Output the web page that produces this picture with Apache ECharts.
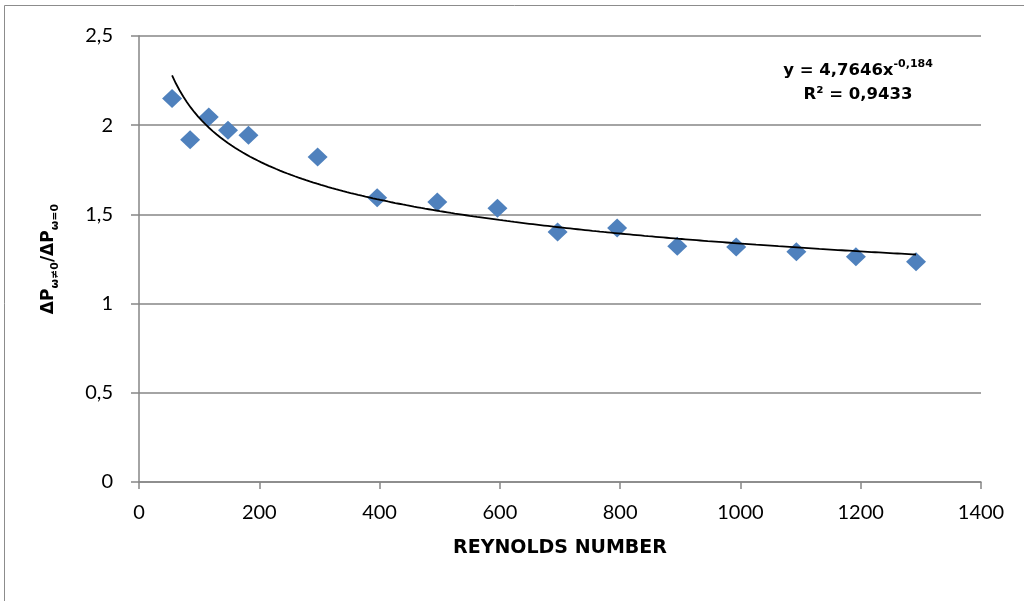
<!DOCTYPE html>
<html>
<head>
<meta charset="utf-8">
<script src="https://cdn.jsdelivr.net/npm/echarts@6/dist/echarts.min.js"></script>
<style>
  html, body { margin: 0; padding: 0; background: #fff; }
  #chart { width: 1024px; height: 601px; }
</style>
</head>
<body>
<div id="chart"></div>
<script>
// ---- data ----
const reynolds = [55, 85, 116, 148, 182, 297, 396, 496, 596, 696, 795, 895, 993, 1093, 1192, 1292];
const pressureRatio = [2.149, 1.919, 2.046, 1.971, 1.943, 1.822, 1.594, 1.570, 1.534, 1.401, 1.424, 1.321, 1.317, 1.291, 1.263, 1.235];

// power trendline coefficients printed on the chart: y = a * x^b
const trendA = 4.7646;
const trendB = -0.184;
const trendLabel = 'y = 4,7646x';
const trendExpLabel = '-0,184';
const r2Label = 'R² = 0,9433';

const xTicks = { min: 0, max: 1400, interval: 200 };
const yTicks = { min: 0, max: 2.5, interval: 0.5 };

const xName = 'REYNOLDS NUMBER';

// ---- build series ----
const scatterData = reynolds.map((x, i) => [x, pressureRatio[i]]);
const trendData = [];
const x0 = reynolds[0], x1 = reynolds[reynolds.length - 1];
const steps = 200;
for (let i = 0; i <= steps; i++) {
  const x = x0 + (x1 - x0) * i / steps;
  trendData.push([x, trendA * Math.pow(x, trendB)]);
}

const chart = echarts.init(document.getElementById('chart'), null, { renderer: 'canvas' });
const gray = '#868686';
const labelFont = 'Lato';
const boldFont = '"DejaVu Sans", "Liberation Sans", Arial, sans-serif';

chart.setOption({
  animation: false,
  backgroundColor: '#fff',
  grid: { left: 139, right: 43, top: 36, bottom: 119, containLabel: false },
  xAxis: {
    type: 'value',
    min: xTicks.min, max: xTicks.max, interval: xTicks.interval,
    name: xName,
    nameLocation: 'middle',
    nameGap: 57,
    nameTextStyle: { fontFamily: boldFont, fontWeight: 'bold', fontSize: 19, color: '#000' },
    axisLine: { show: true, lineStyle: { color: gray, width: 1.5 } },
    axisTick: { show: true, inside: false, length: 7, lineStyle: { color: gray, width: 1.5 } },
    axisLabel: { margin: 21, fontFamily: labelFont, fontSize: 20, color: '#000',
      formatter: v => String(v) },
    splitLine: { show: false }
  },
  yAxis: {
    type: 'value',
    min: yTicks.min, max: yTicks.max, interval: yTicks.interval,
    name: '{m|ΔP}{s|ω≠0}{m|/ΔP}{s|ω=0}',
    nameLocation: 'middle',
    nameRotate: 90,
    nameGap: 78,
    nameTextStyle: {
      color: '#000',
      rich: {
        m: { fontFamily: boldFont, fontWeight: 'bold', fontSize: 17, color: '#000', lineHeight: 24, verticalAlign: 'middle' },
        s: { fontFamily: boldFont, fontWeight: 'bold', fontSize: 11, color: '#000', lineHeight: 24, verticalAlign: 'bottom', padding: [8, 0, 0, 0] }
      }
    },
    axisLine: { show: true, lineStyle: { color: gray, width: 1.5 } },
    axisTick: { show: true, inside: false, length: 8, lineStyle: { color: gray, width: 1.5 } },
    axisLabel: {
      margin: 26, fontFamily: labelFont, fontSize: 20, color: '#000',
      formatter: v => String(v).replace('.', ',')
    },
    splitLine: { show: true, lineStyle: { color: gray, width: 1.5 } }
  },
  series: [
    {
      type: 'line',
      data: trendData,
      showSymbol: false,
      symbol: 'none',
      smooth: false,
      lineStyle: { color: '#000', width: 1.8 },
      z: 3,
      silent: true
    },
    {
      type: 'scatter',
      data: scatterData,
      symbol: 'diamond',
      symbolSize: [20, 19],
      itemStyle: { color: '#4F81BD', opacity: 1 },
      z: 2
    }
  ],
  graphic: [
    {
      type: 'rect',
      shape: { x: 4.5, y: 5.5, width: 1100, height: 700 },
      style: { fill: 'none', stroke: '#8c8c8c', lineWidth: 1 },
      silent: true,
      z: -10
    },
    {
      type: 'text',
      x: 858, y: 69,
      style: {
        text: '{m|' + trendLabel + '}{e|' + trendExpLabel + '}',
        textAlign: 'center',
        textVerticalAlign: 'middle',
        rich: {
          m: { fontFamily: boldFont, fontWeight: 'bold', fontSize: 16.5, fill: '#000', lineHeight: 20, verticalAlign: 'bottom' },
          e: { fontFamily: boldFont, fontWeight: 'bold', fontSize: 11, fill: '#000', lineHeight: 20, verticalAlign: 'top' }
        }
      }
    },
    {
      type: 'text',
      x: 858, y: 95,
      style: {
        text: r2Label,
        textAlign: 'center',
        textVerticalAlign: 'middle',
        font: 'bold 16.5px ' + boldFont,
        fill: '#000'
      }
    }
  ]
});
</script>
</body>
</html>
